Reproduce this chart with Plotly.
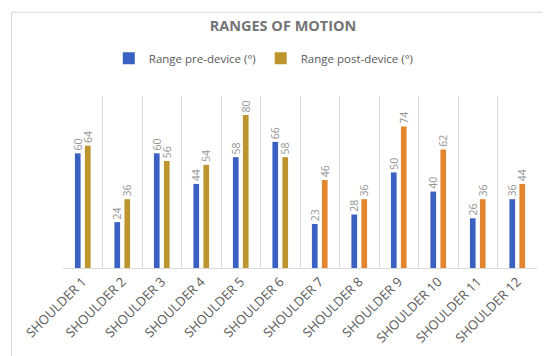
import plotly.graph_objects as go

categories = ["SHOULDER 1", "SHOULDER 2", "SHOULDER 3", "SHOULDER 4", "SHOULDER 5", "SHOULDER 6",
              "SHOULDER 7", "SHOULDER 8", "SHOULDER 9", "SHOULDER 10", "SHOULDER 11", "SHOULDER 12"]
pre_device = [60, 24, 60, 44, 58, 66, 23, 28, 50, 40, 26, 36]
post_device = [64, 36, 56, 54, 80, 58, 46, 36, 74, 62, 36, 44]

blue = "#3A60C2"
gold = "#BD952E"
orange = "#E2862F"
post_colors = [gold] * 6 + [orange] * 6

label_font = dict(family="Open Sans, sans-serif", size=10.5, color="#959595")

W, H = 550, 356
L, R, T, B = 55, 20.5, 88, 95.5
PW, PH = W - L - R, H - T - B

fig = go.Figure()
fig.add_trace(go.Bar(
    x=categories, y=pre_device, name="Range pre-device (°)",
    marker=dict(color=blue, line=dict(width=0)),
    texttemplate="\u00a0%{y}", textposition="outside", textangle=-90,
    textfont=label_font, cliponaxis=False,
))
fig.add_trace(go.Bar(
    x=categories, y=post_device, name="Range post-device (°)",
    marker=dict(color=post_colors, line=dict(width=0)),
    texttemplate="\u00a0%{y}", textposition="outside", textangle=-90,
    textfont=label_font, cliponaxis=False,
))

fig.update_layout(
    width=W, height=H,
    margin=dict(l=L, r=R, t=T, b=B, autoexpand=False),
    paper_bgcolor="white", plot_bgcolor="white",
    barmode="group", bargap=0.494, bargroupgap=0.43,
    title=dict(text="<b>RANGES OF MOTION</b>", x=0.5, xanchor="center",
               y=0.95, yanchor="middle",
               font=dict(family="Open Sans, sans-serif", size=14.5, color="#757575")),
    legend=dict(orientation="h", x=(256 - L) / PW, xanchor="center",
                y=1.22, yanchor="middle",
                font=dict(family="Open Sans, sans-serif", size=11.5, color="#595959"),
                itemwidth=30, traceorder="normal"),
    uniformtext=dict(mode="show", minsize=10.5),
    showlegend=True,
)
fig.update_xaxes(
    type="category", tickson="boundaries", showgrid=True, gridcolor="#D9D9D9", gridwidth=1,
    showline=True, linecolor="#D9D9D9", ticks="", tickangle=-45,
    tickfont=dict(family="Open Sans, sans-serif", size=13, color="#595959"),
    mirror=False,
)
fig.update_yaxes(range=[0, 90], showgrid=False, showticklabels=False, zeroline=False, showline=False)

fig.add_shape(type="rect", xref="paper", yref="paper",
              x0=(3.5 - L) / PW, x1=(546 - L) / PW,
              y0=-(351.5 - (H - B)) / PH, y1=((H - B) - 4) / PH,
              line=dict(color="#D9D9D9", width=1), fillcolor="rgba(0,0,0,0)", layer="below")

fig.write_html("out.html")
